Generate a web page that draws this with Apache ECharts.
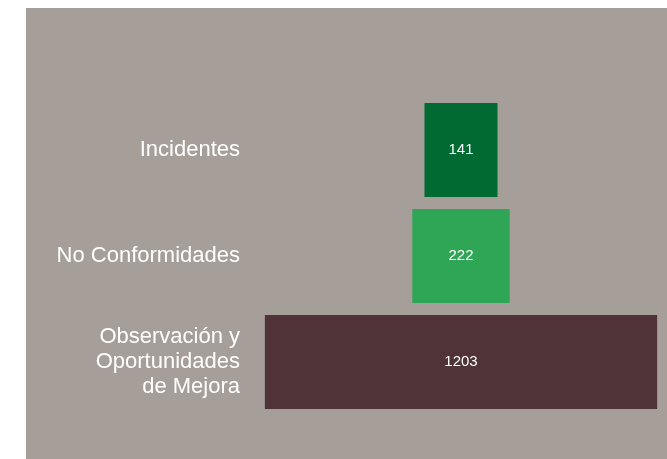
<!DOCTYPE html>
<html>
<head>
<meta charset="utf-8">
<script src="https://cdn.jsdelivr.net/npm/echarts@6/dist/echarts.min.js"></script>
<style>
    html, body { margin: 0; padding: 0; background: #ffffff; }
    #chart { width: 667px; height: 459px; }
</style>
</head>
<body>
<div id="chart"></div>
<script>
    // datos
    var categories = ['Incidentes', 'No Conformidades', 'Observación y\nOportunidades\nde Mejora'];
    var values = [141, 222, 1203];
    var colors = ['#006A33', '#2FA655', '#4F3338'];

    var chart = echarts.init(document.getElementById('chart'));

    var PAD = 102; // ancho minimo de cada barra, en unidades del eje

    var option = {
        backgroundColor: '#ffffff',
        animation: false,
        graphic: [{
            type: 'rect',
            z: -10,
            shape: { x: 26, y: 8, width: 641, height: 451 },
            style: { fill: '#A69F99' }
        }],
        grid: { left: 256, right: 1, top: 97, bottom: 44 },
        xAxis: {
            type: 'value',
            min: -682,
            max: 682,
            show: false
        },
        yAxis: {
            type: 'category',
            inverse: true,
            data: categories,
            axisLine: { show: false },
            axisTick: { show: false },
            splitLine: { show: false },
            axisLabel: {
                margin: 16,
                color: '#ffffff',
                fontFamily: 'Liberation Sans, Arial, sans-serif',
                fontSize: 22,
                lineHeight: 25,
                align: 'right'
            }
        },
        series: [{
            type: 'custom',
            data: values.map(function (v, i) { return [i, v]; }),
            encode: { y: 0, x: 1 },
            renderItem: function (params, api) {
                var idx = api.value(0);
                var v = api.value(1);
                var c = api.coord([0, idx]);
                var w = api.size([v + PAD, 0])[0];
                var h = api.size([0, 1])[1] * 0.887;
                return {
                    type: 'group',
                    children: [{
                        type: 'rect',
                        shape: { x: c[0] - w / 2, y: c[1] - h / 2, width: w, height: h },
                        style: { fill: colors[idx] }
                    }, {
                        type: 'text',
                        style: {
                            x: c[0],
                            y: c[1],
                            text: String(v),
                            fill: '#ffffff',
                            font: '15px "Liberation Sans", Arial, sans-serif',
                            textAlign: 'center',
                            textVerticalAlign: 'middle'
                        }
                    }]
                };
            }
        }]
    };

    chart.setOption(option);
</script>
</body>
</html>
